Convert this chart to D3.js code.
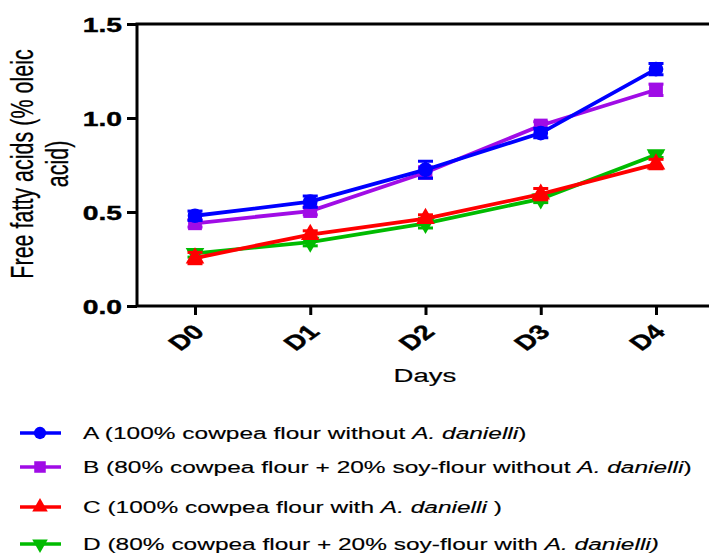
<!DOCTYPE html>
<html>
<head>
<meta charset="utf-8">
<script src="https://cdn.jsdelivr.net/npm/d3@7"></script>
<style>
  body { margin: 0; background: #fff; }
  text { font-family: "Liberation Sans", Arial, sans-serif; }
</style>
</head>
<body>
<script>
// days on the x axis
var days = ["D0", "D1", "D2", "D3", "D4"];
// free fatty acids (% oleic acid), mean and error
var seriesA = [0.48, 0.555, 0.725, 0.92, 1.26];
var errA = [0.025, 0.03, 0.045, 0.025, 0.03];
var seriesB = [0.44, 0.505, 0.71, 0.96, 1.15];
var errB = [0.02, 0.02, 0.03, 0.02, 0.03];
var seriesC = [0.255, 0.38, 0.465, 0.595, 0.755];
var errC = [0.03, 0.02, 0.02, 0.03, 0.025];
var seriesD = [0.28, 0.34, 0.44, 0.57, 0.805];
var errD = [0.02, 0.02, 0.025, 0.02, 0.015];
var yTicks = [0, 0.5, 1.0, 1.5];
var legendNames = [
  ["A (100% cowpea flour without ", "A. danielli", ")"],
  ["B (80% cowpea flour + 20% soy-flour without ", "A. danielli", ")"],
  ["C (100% cowpea flour with ", "A. danielli", " )"],
  ["D (80% cowpea flour + 20% soy-flour with ", "A. danielli)", ""]
];

var width = 709;
var height = 554;
var sx = 1.38; // the figure is stretched sideways

var svg = d3.select("body")
  .append("svg")
  .attr("width", width)
  .attr("height", height);

var plot = { left: 137, right: 709, top: 24, bottom: 306 };

var x = d3.scalePoint()
  .domain(days)
  .range([195, 656]);

var y = d3.scaleLinear()
  .domain([0, 1.5])
  .range([plot.bottom, plot.top]);

var series = [
  { name: "A", values: seriesA, err: errA, color: "#0000ff", shape: d3.symbolCircle, size: 170 },
  { name: "B", values: seriesB, err: errB, color: "#a00ce6", shape: d3.symbolSquare, size: 190 },
  { name: "C", values: seriesC, err: errC, color: "#ff0000", shape: d3.symbolTriangle, size: 150, rot: 0 },
  { name: "D", values: seriesD, err: errD, color: "#00bb00", shape: d3.symbolTriangle, size: 150, rot: 180 }
];

// axes
var yAxis = d3.axisLeft(y)
  .tickValues(yTicks)
  .tickSize(10)
  .tickPadding(0)
  .tickFormat(d3.format(".1f"));

var gy = svg.append("g")
  .attr("transform", "translate(" + plot.left + ",0)")
  .call(yAxis);
gy.select(".domain").remove();
gy.selectAll("line").attr("stroke", "#000").attr("stroke-width", 3);
gy.selectAll("text")
  .attr("x", 0)
  .attr("dy", "0.36em")
  .attr("transform", "translate(-15,0) scale(" + sx + ",1)")
  .attr("font-size", 20.5)
  .attr("font-weight", "bold")
  .attr("stroke", "#000")
  .attr("stroke-width", 0.4)
  .attr("fill", "#000");

var xAxis = d3.axisBottom(x).tickSize(9);
var gx = svg.append("g")
  .attr("transform", "translate(0," + plot.bottom + ")")
  .call(xAxis);
gx.select(".domain").remove();
gx.selectAll("line").attr("stroke", "#000").attr("stroke-width", 3);
gx.selectAll("text")
  .attr("x", 0)
  .attr("y", 0)
  .attr("dy", "0.36em")
  .attr("text-anchor", "end")
  .attr("transform", "translate(3,22) scale(" + sx + ",1) rotate(-45)")
  .attr("font-size", 20.5)
  .attr("font-weight", "bold")
  .attr("stroke", "#000")
  .attr("stroke-width", 0.4)
  .attr("fill", "#000");

// frame
svg.append("rect")
  .attr("x", plot.left)
  .attr("y", plot.top)
  .attr("width", plot.right - plot.left + 10)
  .attr("height", plot.bottom - plot.top)
  .attr("fill", "none")
  .attr("stroke", "#000")
  .attr("stroke-width", 3);

// axis titles
svg.append("text")
  .attr("transform", "translate(425,382) scale(1.45,1)")
  .attr("text-anchor", "middle")
  .attr("font-size", 19)
  .attr("stroke", "#000")
  .attr("stroke-width", 0.2)
  .text("Days");

var yTitle = svg.append("text")
  .attr("transform", "translate(33,164) scale(1.45,1) rotate(-90)")
  .attr("text-anchor", "middle")
  .attr("font-size", 21.5)
  .attr("stroke", "#000")
  .attr("stroke-width", 0.2);
yTitle.append("tspan").attr("x", 0).attr("y", 0).text("Free fatty acids (% oleic");
yTitle.append("tspan").attr("x", 0).attr("y", 24).text("acid)");

// lines, error bars, markers (D first so A sits on top)
var line = d3.line()
  .x(function (d, i) { return x(days[i]); })
  .y(function (d) { return y(d); });

var groups = svg.selectAll("g.series")
  .data(series.slice().reverse())
  .enter()
  .append("g")
  .attr("class", "series");

groups.append("path")
  .attr("d", function (d) { return line(d.values); })
  .attr("fill", "none")
  .attr("stroke", function (d) { return d.color; })
  .attr("stroke-width", 3.8);

groups.each(function (s) {
  var g = d3.select(this);
  var pts = s.values.map(function (v, i) { return { day: days[i], v: v, e: s.err[i] }; });
  var bars = g.selectAll("g.err").data(pts).enter().append("g").attr("class", "err")
    .attr("stroke", s.color).attr("stroke-width", 3);
  bars.append("line")
    .attr("x1", function (d) { return x(d.day); })
    .attr("x2", function (d) { return x(d.day); })
    .attr("y1", function (d) { return y(d.v - d.e); })
    .attr("y2", function (d) { return y(d.v + d.e); });
  bars.append("line")
    .attr("x1", function (d) { return x(d.day) - 7.5; })
    .attr("x2", function (d) { return x(d.day) + 7.5; })
    .attr("y1", function (d) { return y(d.v + d.e); })
    .attr("y2", function (d) { return y(d.v + d.e); });
  bars.append("line")
    .attr("x1", function (d) { return x(d.day) - 7.5; })
    .attr("x2", function (d) { return x(d.day) + 7.5; })
    .attr("y1", function (d) { return y(d.v - d.e); })
    .attr("y2", function (d) { return y(d.v - d.e); });
  g.selectAll("path.mark").data(pts).enter().append("path")
    .attr("class", "mark")
    .attr("d", d3.symbol().type(s.shape).size(s.size))
    .attr("fill", s.color)
    .attr("transform", function (d) {
      return "translate(" + x(d.day) + "," + y(d.v) + ") rotate(" + (s.rot || 0) + ")";
    });
});

// legend
var legendY = [433, 467, 507, 544];
var legend = svg.selectAll("g.legend")
  .data(series)
  .enter()
  .append("g")
  .attr("class", "legend")
  .attr("transform", function (d, i) { return "translate(0," + legendY[i] + ")"; });

legend.append("line")
  .attr("x1", 20).attr("x2", 61)
  .attr("stroke", function (d) { return d.color; })
  .attr("stroke-width", 3.5);
legend.append("path")
  .attr("d", function (d) { return d3.symbol().type(d.shape).size(d.size * 0.7)(); })
  .attr("fill", function (d) { return d.color; })
  .attr("transform", function (d) { return "translate(40,0) rotate(" + (d.rot || 0) + ")"; });

var lt = legend.append("text")
  .attr("transform", "translate(83,6) scale(1.44,1)")
  .attr("font-size", 17)
  .attr("stroke", "#000")
  .attr("stroke-width", 0.15);
lt.append("tspan").text(function (d, i) { return legendNames[i][0]; });
lt.append("tspan").attr("font-style", "italic").text(function (d, i) { return legendNames[i][1]; });
lt.append("tspan").text(function (d, i) { return legendNames[i][2]; });
</script>
</body>
</html>
